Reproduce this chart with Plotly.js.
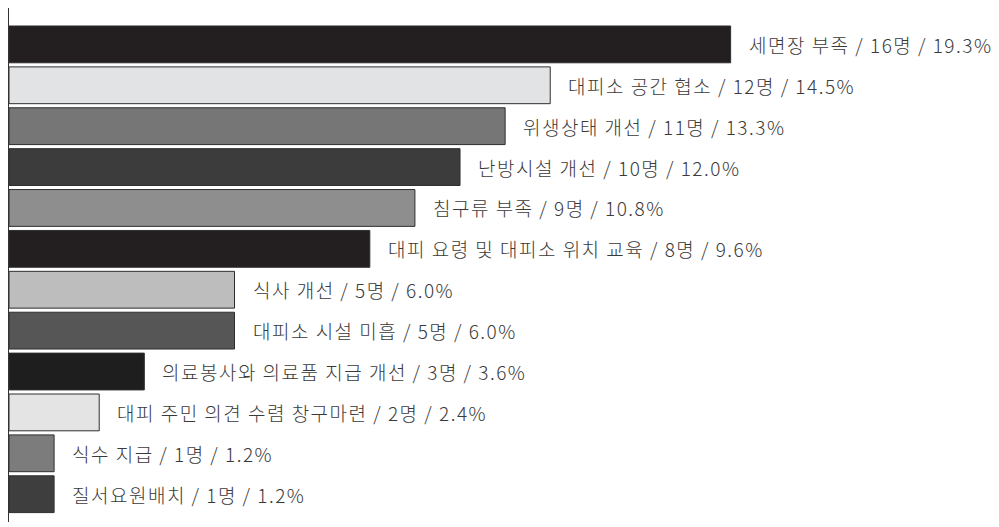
<!DOCTYPE html>
<html>
<head>
<meta charset="utf-8">
<script src="https://cdn.plot.ly/plotly-3.0.1.min.js"></script>
<style>
  html, body { margin: 0; padding: 0; background: #fff; }
  #chart { width: 999px; height: 527px; }
  #chart .annotation-text { letter-spacing: 1.5px; }
</style>
</head>
<body>
<div id="chart"></div>
<script>
// 항목, 응답자 수, 비율
const categories = [
  '세면장 부족', '대피소 공간 협소', '위생상태 개선', '난방시설 개선',
  '침구류 부족', '대피 요령 및 대피소 위치 교육', '식사 개선', '대피소 시설 미흡',
  '의료봉사와 의료품 지급 개선', '대피 주민 의견 수렴 창구마련', '식수 지급', '질서요원배치'
];
const counts = [16, 12, 11, 10, 9, 8, 5, 5, 3, 2, 1, 1];
const percents = [19.3, 14.5, 13.3, 12.0, 10.8, 9.6, 6.0, 6.0, 3.6, 2.4, 1.2, 1.2];
const barColors = [
  '#231f20', '#e2e3e4', '#767676', '#3c3c3c', '#8e8e8e', '#231f20',
  '#bdbdbd', '#565656', '#1e1e1e', '#e4e4e4', '#7c7c7c', '#3e3e3e'
];

const idx = categories.map((c, i) => i);

const trace = {
  type: 'bar',
  orientation: 'h',
  x: counts,
  y: idx,
  width: 0.9,
  marker: { color: barColors, line: { color: '#2e2e2e', width: 1 } },
  hoverinfo: 'skip'
};

const annotations = categories.map((c, i) => ({
  x: counts[i],
  y: i,
  xref: 'x',
  yref: 'y',
  text: `${c} / ${counts[i]}명 / ${percents[i].toFixed(1)}%`,
  showarrow: false,
  align: 'left',
  xanchor: 'left',
  yanchor: 'middle',
  xshift: 16,
  font: { family: '"Noto Sans CJK KR", "Noto Sans", sans-serif', size: 19, weight: 300, color: '#3a3a3a' }
}));

const layout = {
  width: 999,
  height: 527,
  margin: { l: 9, r: 0, t: 8, b: 5 },
  paper_bgcolor: '#fff',
  plot_bgcolor: '#fff',
  showlegend: false,
  xaxis: {
    range: [0, 21.95],
    visible: false,
    fixedrange: true
  },
  yaxis: {
    range: [11.68, -0.89],
    showticklabels: false,
    ticks: '',
    showgrid: false,
    zeroline: false,
    showline: true,
    linecolor: '#333',
    linewidth: 1.5,
    fixedrange: true
  },
  annotations: annotations
};

Plotly.newPlot('chart', [trace], layout, { displayModeBar: false, staticPlot: true });
</script>
</body>
</html>
